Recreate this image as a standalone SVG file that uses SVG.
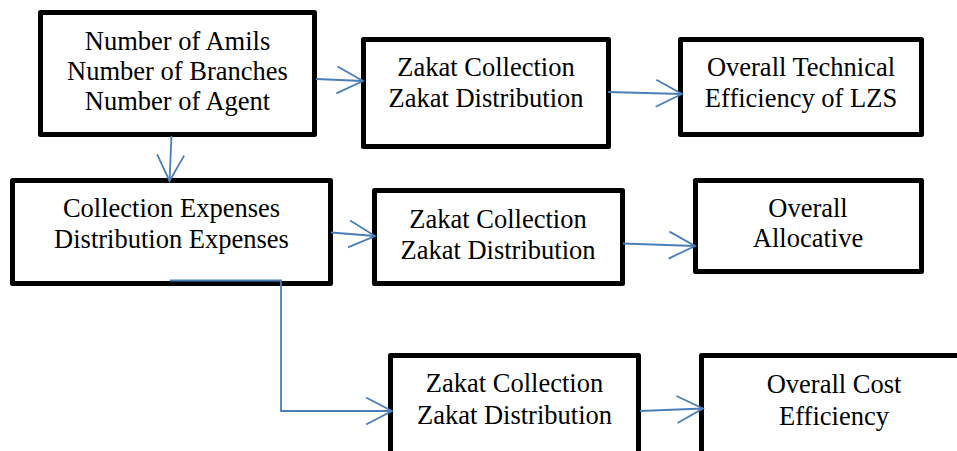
<svg xmlns="http://www.w3.org/2000/svg" width="957" height="451" viewBox="0 0 957 451">
<defs>
<marker id="open" markerUnits="userSpaceOnUse" markerWidth="30" markerHeight="30" viewBox="-28 -15 30 30" refX="0" refY="0" orient="auto" overflow="visible">
<path d="M-26,-13.5 L0,0 L-26,13.5" fill="none" stroke="#4a7ebb" stroke-width="1.8"/>
</marker>
<style>
.box{fill:#fff;stroke:#000;stroke-width:5;stroke-linejoin:round}
.t{font-family:'Liberation Serif','Times New Roman','DejaVu Serif',serif;font-size:26.5px;fill:#000;text-anchor:middle}
.c{fill:none;stroke:#4a7ebb;stroke-width:1.8;marker-end:url(#open)}
</style>
</defs>
<rect width="957" height="451" fill="#fff"/>
<g font-family="Liberation Serif, Times New Roman, serif">
<g id="n1"><rect class="box" x="40.5" y="12.5" width="274" height="122"/>
<text class="t" x="177.5" y="50">Number of Amils</text>
<text class="t" x="177.5" y="80">Number of Branches</text>
<text class="t" x="177.5" y="110">Number of Agent</text></g>
<g id="n2"><rect class="box" x="363.5" y="39.5" width="245" height="107"/>
<text class="t" x="486" y="76">Zakat Collection</text>
<text class="t" x="486" y="106.5">Zakat Distribution</text></g>
<g id="n3"><rect class="box" x="680.5" y="39.5" width="241" height="95"/>
<text class="t" x="801" y="76">Overall Technical</text>
<text class="t" x="801" y="106.5">Efficiency of LZS</text></g>
<g id="n4"><rect class="box" x="12.5" y="180.5" width="318" height="103"/>
<text class="t" x="171.5" y="216.5">Collection Expenses</text>
<text class="t" x="171.5" y="248">Distribution Expenses</text></g>
<g id="n5"><rect class="box" x="374.5" y="190.5" width="248" height="93"/>
<text class="t" x="498" y="228">Zakat Collection</text>
<text class="t" x="498" y="259">Zakat Distribution</text></g>
<g id="n6"><rect class="box" x="695.5" y="180.5" width="226" height="91"/>
<text class="t" x="808" y="216.5">Overall</text>
<text class="t" x="808" y="247">Allocative</text></g>
<g id="n7"><rect class="box" x="390.5" y="355.5" width="248" height="100"/>
<text class="t" x="514.5" y="391.5">Zakat Collection</text>
<text class="t" x="514.5" y="424">Zakat Distribution</text></g>
<g id="n8"><rect class="box" x="701.5" y="355.5" width="270" height="100"/>
<text class="t" x="834" y="393">Overall Cost</text>
<text class="t" x="834" y="425">Efficiency</text></g>
</g>
<g id="connectors">
<path class="c" d="M316,79 L363,81"/>
<path class="c" d="M608,92 L682,94"/>
<path class="c" d="M171.5,136 L169.5,181"/>
<path class="c" d="M331,232.5 L375,236"/>
<path class="c" d="M623,243.5 L695,246"/>
<path class="c" d="M170,280.5 H281 V411 H392"/>
<path class="c" d="M640,411 L703,408.5"/>
</g>
</svg>
